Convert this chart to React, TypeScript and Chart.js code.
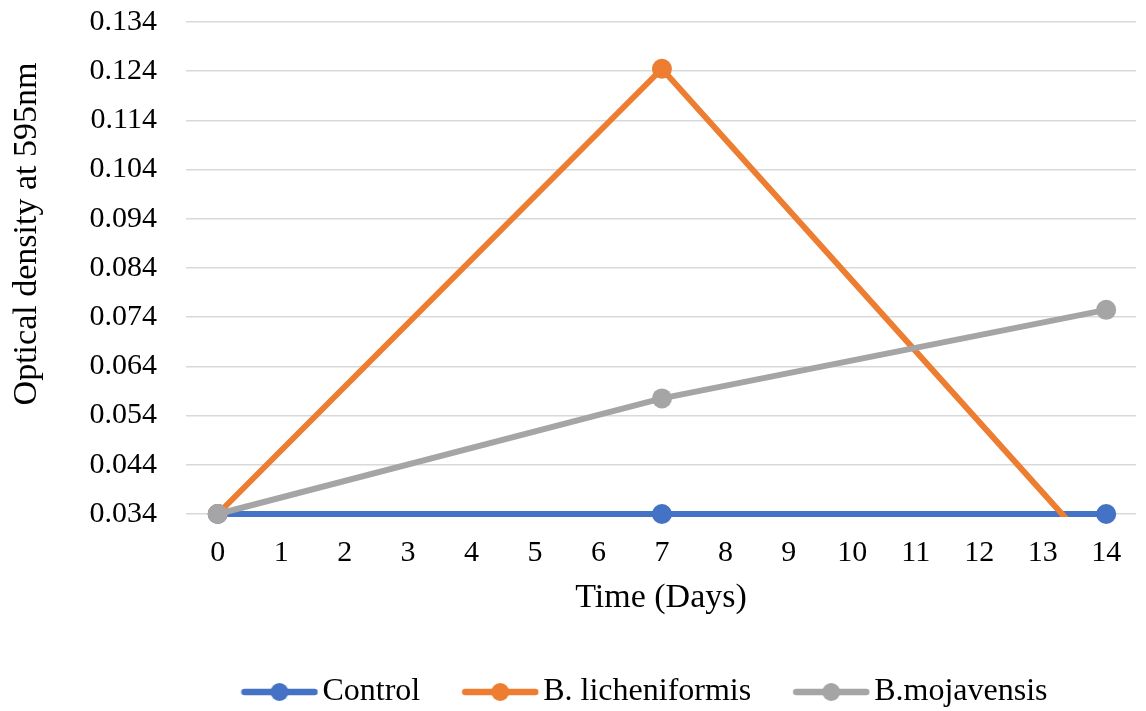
import React, { useEffect, useRef } from "react";
import { Chart, registerables } from "chart.js";

Chart.register(...registerables);

const days = [0, 7, 14];
const controlValues = [0.034, 0.034, 0.034];
const licheniformisValues = [0.034, 0.1245, 0.024];
const mojavensisValues = [0.034, 0.0575, 0.0755];
const xTickValues = [0, 1, 2, 3, 4, 5, 6, 7, 8, 9, 10, 11, 12, 13, 14];
const yTickValues = [0.034, 0.044, 0.054, 0.064, 0.074, 0.084, 0.094, 0.104, 0.114, 0.124, 0.134];
const seriesNames = ["Control", "B. licheniformis", "B.mojavensis"];
const seriesColors = ["#4472C4", "#ED7D31", "#A5A5A5"];
const xTitle = "Time (Days)";
const yTitle = "Optical density at 595nm";

const FONT = "'Liberation Serif', 'Times New Roman', serif";

function makeIcon(color: string): HTMLCanvasElement {
  const c = document.createElement("canvas");
  c.width = 78;
  c.height = 22;
  const ctx = c.getContext("2d")!;
  ctx.strokeStyle = color;
  ctx.lineWidth = 6.5;
  ctx.lineCap = "round";
  ctx.beginPath();
  ctx.moveTo(4, 11);
  ctx.lineTo(74, 11);
  ctx.stroke();
  ctx.fillStyle = color;
  ctx.beginPath();
  ctx.arc(39, 11, 9, 0, Math.PI * 2);
  ctx.fill();
  return c;
}

const legendShift = {
  id: "legendShift",
  afterLayout(chart: any) {
    const lg = chart.legend;
    if (lg) {
      lg.left += 77;
      lg.right += 77;
      lg.top += 7;
      lg.bottom += 7;
    }
  },
};

export default function App() {
  const ref = useRef<HTMLCanvasElement | null>(null);

  useEffect(() => {
    if (!ref.current) return;
    const icons = seriesColors.map(makeIcon);
    const mk = (i: number, values: number[], order: number, clip: any) => ({
      label: seriesNames[i],
      data: days.map((d, k) => ({ x: d, y: values[k] })),
      borderColor: seriesColors[i],
      backgroundColor: seriesColors[i],
      borderWidth: 6,
      pointRadius: 10,
      pointBorderWidth: 0,
      pointHoverRadius: 10,
      tension: 0,
      order,
      clip,
    });
    const chart = new Chart(ref.current, {
      type: "line",
      data: {
        datasets: [
          mk(0, controlValues, 3, 12),
          mk(1, licheniformisValues, 2, { left: 12, top: 12, right: 12, bottom: 3 }),
          mk(2, mojavensisValues, 1, 12),
        ],
      },
      plugins: [legendShift],
      options: {
        animation: false,
        responsive: false,
        layout: { padding: { top: 22, left: 0, right: 0, bottom: 0 } },
        plugins: {
          tooltip: { enabled: false },
          legend: {
            position: "bottom",
            labels: {
              usePointStyle: true,
              pointStyleWidth: 54,
              padding: 53,
              color: "#000",
              font: { family: FONT, size: 32 },
              sort: (a: any, b: any) => a.datasetIndex - b.datasetIndex,
              generateLabels: (chart: any) => {
                const items = Chart.defaults.plugins.legend.labels.generateLabels(chart);
                items.forEach((it: any) => {
                  it.pointStyle = icons[it.datasetIndex];
                });
                return items;
              },
            },
          },
        },
        scales: {
          x: {
            type: "linear",
            min: -0.5,
            max: 14.47,
            afterBuildTicks: (scale: any) => {
              scale.ticks = xTickValues.map((v) => ({ value: v }));
            },
            afterFit: (scale: any) => {
              scale.height = 102;
              scale.paddingLeft = 0;
              scale.paddingRight = 0;
              scale.paddingTop = 0;
              scale.paddingBottom = 0;
            },
            grid: { display: false, drawTicks: false },
            border: { display: false },
            ticks: {
              color: "#000",
              padding: 21,
              font: { family: FONT, size: 30 },
              maxRotation: 0,
              autoSkip: false,
            },
            title: {
              display: true,
              text: xTitle,
              color: "#000",
              font: { family: FONT, size: 34, lineHeight: 0.9 },
              padding: { top: 0, bottom: 3 },
            },
          },
          y: {
            type: "linear",
            min: 0.034,
            max: 0.134,
            afterBuildTicks: (scale: any) => {
              scale.ticks = yTickValues.map((v) => ({ value: v }));
            },
            afterFit: (scale: any) => {
              scale.width = 186;
              scale.paddingLeft = 0;
              scale.paddingRight = 0;
              scale.paddingTop = 0;
              scale.paddingBottom = 0;
            },
            grid: { color: "#d9d9d9", lineWidth: 1.5, drawTicks: false },
            border: { display: false },
            ticks: {
              color: "#000",
              padding: 29,
              font: { family: FONT, size: 30 },
              callback: (v: any) => Number(v).toFixed(3),
            },
            title: {
              display: true,
              text: "\u00A0".repeat(8) + yTitle,
              color: "#000",
              font: { family: FONT, size: 34 },
              padding: { top: 7, bottom: 0 },
            },
          },
        },
      },
    });
    return () => chart.destroy();
  }, []);

  return (
    <div style={{ position: "fixed", left: 0, top: 0, width: 1146, height: 711, background: "#fff" }}>
      <canvas ref={ref} width={1146} height={711} style={{ display: "block" }} />
    </div>
  );
}
